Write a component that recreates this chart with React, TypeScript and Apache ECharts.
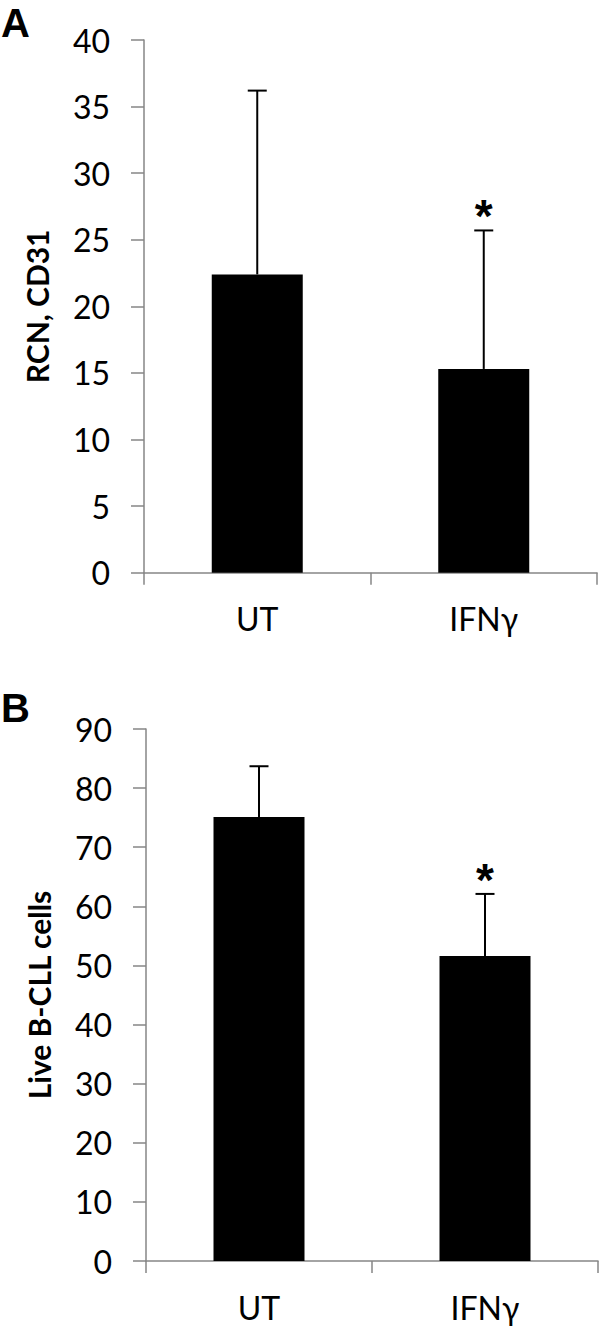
import React, { useEffect, useRef } from "react";
import * as echarts from "echarts";

const categories = ["UT", "IFNγ"];
const rcnMean = [22.4, 15.3];
const rcnUpper = [36.2, 25.7];
const liveMean = [75.1, 51.6];
const liveUpper = [83.7, 62.1];
const significant = [0, 1];
const rcnAxis = { min: 0, max: 40, interval: 5 };
const liveAxis = { min: 0, max: 90, interval: 10 };

const FONT = "Lato";
const AXIS_COLOR = "#868686";

function errorItem(params: any, api: any) {
  const x = api.value(0);
  const mean = api.value(1);
  const up = api.value(2);
  const sig = api.value(3);
  const p0 = api.coord([x, mean]);
  const p1 = api.coord([x, up]);
  const style = { stroke: "#000", lineWidth: 2 };
  const children: any[] = [
    { type: "line", shape: { x1: p0[0], y1: p0[1], x2: p1[0], y2: p1[1] }, style },
    { type: "line", shape: { x1: p1[0] - 9.5, y1: p1[1], x2: p1[0] + 9.5, y2: p1[1] }, style },
  ];
  if (sig) {
    children.push({
      type: "text",
      x: p1[0],
      y: p1[1] - 14,
      style: {
        text: "*",
        fontSize: 46,
        fontWeight: "bold",
        fontFamily: "Liberation Sans",
        fill: "#000",
        align: "center",
        verticalAlign: "middle",
      },
    });
  }
  return { type: "group", children };
}

function xAxisOf(gridIndex: number) {
  return {
    type: "category",
    gridIndex,
    data: categories,
    boundaryGap: true,
    axisLine: { show: true, lineStyle: { color: AXIS_COLOR, width: 1.5 } },
    axisTick: { show: true, length: 12, lineStyle: { color: AXIS_COLOR, width: 1.5 } },
    axisLabel: { fontSize: 32, color: "#000", fontFamily: FONT, margin: 30 },
  };
}

function yAxisOf(gridIndex: number, ax: any, name: string) {
  return {
    type: "value",
    gridIndex,
    min: ax.min,
    max: ax.max,
    interval: ax.interval,
    name,
    nameLocation: "middle",
    nameGap: 92,
    nameTextStyle: { fontSize: 30, fontWeight: "bold", color: "#000", fontFamily: FONT },
    axisLine: { show: true, lineStyle: { color: AXIS_COLOR, width: 1.5 } },
    axisTick: { show: true, length: 13, lineStyle: { color: AXIS_COLOR, width: 1.5 } },
    splitLine: { show: false },
    axisLabel: { fontSize: 32, color: "#000", fontFamily: FONT, margin: 34 },
  };
}

export default function App() {
  const ref = useRef<HTMLDivElement>(null);
  useEffect(() => {
    if (!ref.current) return;
    document.body.style.margin = "0";
    const chart = echarts.init(ref.current, null, { renderer: "svg" });
    const errA = categories.map((_, i) => [i, rcnMean[i], rcnUpper[i], significant[i]]);
    const errB = categories.map((_, i) => [i, liveMean[i], liveUpper[i], significant[i]]);
    chart.setOption({
      animation: false,
      backgroundColor: "#fff",
      graphic: [
        { type: "text", left: 1, top: 3, style: { text: "A", fontSize: 40, fontWeight: "bold", fontFamily: "Liberation Sans", fill: "#000" } },
        { type: "text", left: 1, top: 688, style: { text: "B", fontSize: 40, fontWeight: "bold", fontFamily: "Liberation Sans", fill: "#000" } },
      ],
      grid: [
        { left: 144, top: 40, width: 453, height: 532.7 },
        { left: 146, top: 729, width: 452, height: 532 },
      ],
      xAxis: [xAxisOf(0), xAxisOf(1)],
      yAxis: [yAxisOf(0, rcnAxis, "RCN, CD31"), yAxisOf(1, liveAxis, "Live B-CLL cells")],
      series: [
        { type: "bar", xAxisIndex: 0, yAxisIndex: 0, data: rcnMean, barWidth: 91, itemStyle: { color: "#000" } },
        { type: "custom", xAxisIndex: 0, yAxisIndex: 0, data: errA, renderItem: errorItem, z: 3 },
        { type: "bar", xAxisIndex: 1, yAxisIndex: 1, data: liveMean, barWidth: 91, itemStyle: { color: "#000" } },
        { type: "custom", xAxisIndex: 1, yAxisIndex: 1, data: errB, renderItem: errorItem, z: 3 },
      ],
    });
    return () => chart.dispose();
  }, []);
  return <div ref={ref} style={{ position: "absolute", left: 0, top: 0, width: 600, height: 1329 }} />;
}
